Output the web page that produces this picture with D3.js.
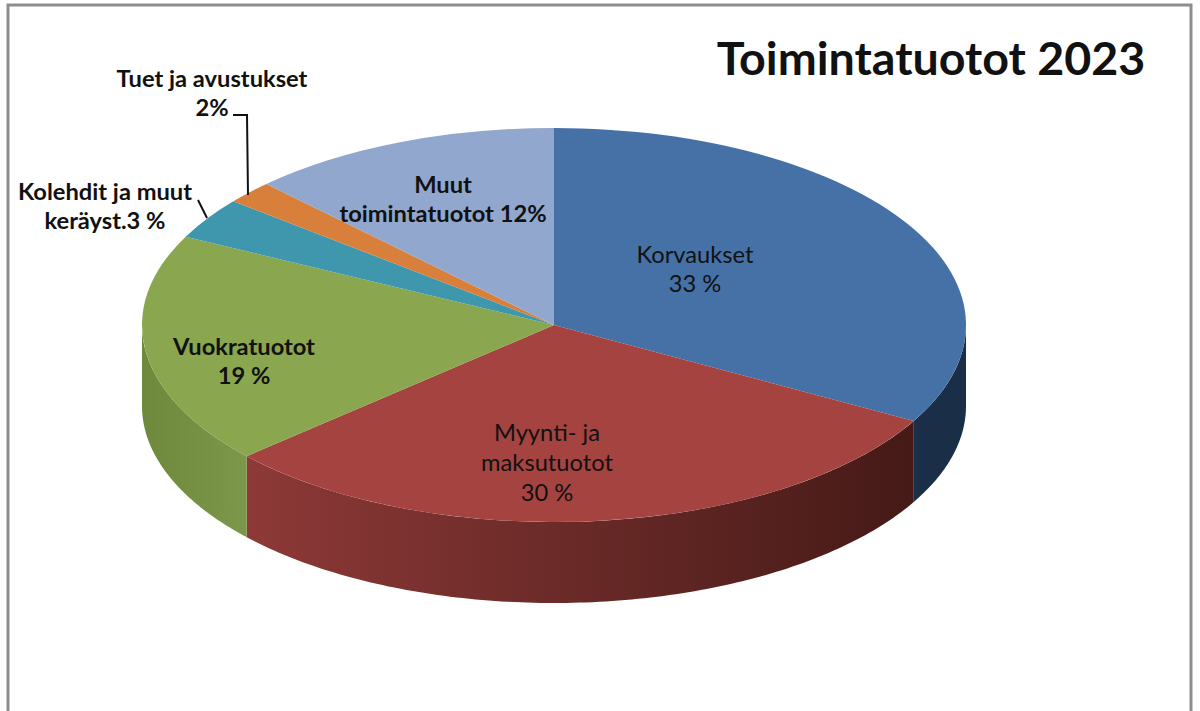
<!DOCTYPE html>
<html>
<head>
<meta charset="utf-8">
<script src="https://cdn.jsdelivr.net/npm/d3@7/dist/d3.min.js"></script>
<style>html,body{margin:0;padding:0;background:#fff;overflow:hidden}svg{display:block}text{font-family:Lato,"Open Sans",sans-serif;fill:#111}</style>
</head>
<body>
<svg id="c" width="1200" height="711"></svg>
<script>
const titleText = "Toimintatuotot 2023";
const categories = ["Korvaukset","Myynti- ja maksutuotot","Vuokratuotot","Kolehdit ja muut keräyst.","Tuet ja avustukset","Muut toimintatuotot"];
const values = [33.1,30.3,19,3.4,1.9,12.3];
const topColors = ["#4571a6","#a54341","#8aa64e","#3f97ae","#d77f3b","#92a7cd"];
const wallStart = ["#1a2e47","#8d3937","#7d974a","#3f97ae","#d77f3b","#92a7cd"];
const wallEnd = ["#1a2e47","#451a17","#6e893b","#3f97ae","#d77f3b","#92a7cd"];
const labelLines = [["Korvaukset","33 %"],["Myynti- ja","maksutuotot","30 %"],["Vuokratuotot","19 %"],["Kolehdit ja muut","keräyst.3 %"],["Tuet ja avustukset","2%"],["Muut","toimintatuotot 12%"]];
const labelBold = [false,false,true,true,true,true];
const labelAnchors = [[695,263],[547,441],[244,355],[105,200],[212,87],[443,193]];
const lineStep = [29,30,29,29,29,29];
const leaders = [[[233,115],[247,115],[248,195]],[[198,200],[207,218]]];

const svg = d3.select("#c");
const W = 1200, H = 711;
const cx = 554, cy = 325, rx = 412, ry = 197, depth = 81;

// chart frame
svg.append("path").attr("d", d3.line()([[8,H],[8,5],[1191,5],[1191,H]]))
  .attr("fill","none").attr("stroke","#8e8e8e").attr("stroke-width",3);

const pieData = d3.pie().sort(null).value(d=>d).startAngle(0).endAngle(2*Math.PI)(values);
const px = a => cx + rx*Math.sin(a);
const py = a => cy - ry*Math.cos(a);
const defs = svg.append("defs");

// side walls: only the front half of the disc
const wallLine = d3.line();
pieData.forEach((d,i)=>{
  const a0 = Math.max(d.startAngle, Math.PI/2), a1 = Math.min(d.endAngle, 3*Math.PI/2);
  if (a1 <= a0) return;
  const as = d3.range(0,121).map(k=>a0+(a1-a0)*k/120);
  const top = as.map(a=>[px(a),py(a)]);
  const bot = as.slice().reverse().map(a=>[px(a),py(a)+depth]);
  const id = "w"+i;
  const xs = top.map(p=>p[0]);
  const g = defs.append("linearGradient").attr("id",id).attr("gradientUnits","userSpaceOnUse")
    .attr("x1",xs[0]).attr("x2",xs[xs.length-1]).attr("y1",0).attr("y2",0);
  g.append("stop").attr("offset",0).attr("stop-color",i===1?wallEnd[i]:wallStart[i]);
  g.append("stop").attr("offset",1).attr("stop-color",i===1?wallStart[i]:wallEnd[i]);
  svg.append("path").attr("d",wallLine(top.concat(bot))+"Z").attr("fill",`url(#${id})`);
});

// top face: unit pie squashed into an ellipse
const arc = d3.arc().innerRadius(0).outerRadius(rx);
svg.append("g").attr("transform",`translate(${cx},${cy}) scale(1,${ry/rx})`)
  .selectAll("path").data(pieData).join("path")
  .attr("d",arc).attr("fill",(d,i)=>topColors[i]);

// leader lines
svg.selectAll("path.leader").data(leaders).join("path").attr("class","leader")
  .attr("d",d=>d3.line()(d)).attr("fill","none").attr("stroke","#111").attr("stroke-width",2);

// labels
labelLines.forEach((ls,i)=>{
  const t = svg.append("text").attr("text-anchor","middle")
    .attr("font-size",23.7).attr("font-weight",labelBold[i]?700:400);
  ls.forEach((s,k)=>t.append("tspan").attr("x",labelAnchors[i][0]).attr("y",labelAnchors[i][1]+k*lineStep[i]).text(s));
});

svg.append("text").attr("x",931).attr("y",75).attr("text-anchor","middle")
  .attr("font-size",46.6).attr("font-weight",700).attr("fill","#000").text(titleText);
</script>
</body>
</html>
